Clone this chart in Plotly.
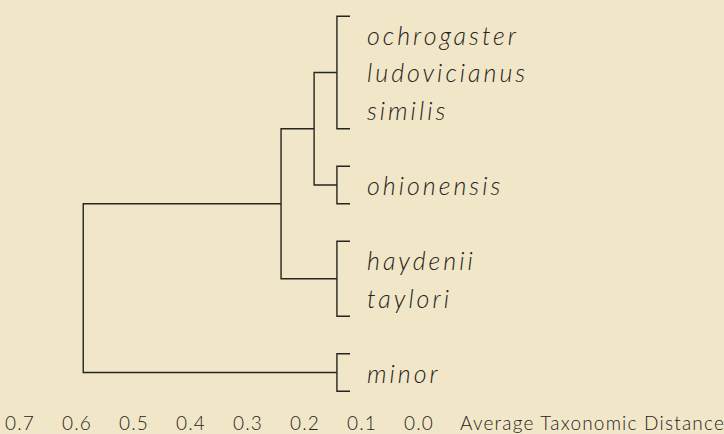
import plotly.graph_objects as go

species = ["ochrogaster", "ludovicianus", "similis", "ohionensis", "haydenii", "taylori", "minor"]
leaf_rows = [0, 1, 2, 4, 6, 7, 9]
clusters = [[0, 1, 2], [3], [4, 5], [6]]          # leaf groups joined at the leaf level
leaf_level = 0.144
merge_heights = [0.184, 0.242, 0.589]             # successive joins of clusters
tick_values = [0.7, 0.6, 0.5, 0.4, 0.3, 0.2, 0.1, 0.0]
tick_labels = ["0.7", "0.6", "0.5", "0.4", "0.3", "0.2", "0.1", "0.0"]
axis_title = "Average Taxonomic Distance"

# ---- styling constants ----
BG = "#f1e7c8"
INK = "#262420"
BRACKET_TICK = 0.023

xs, ys = [], []

def seg(pts):
    for p in pts:
        xs.append(p[0]); ys.append(p[1])
    xs.append(None); ys.append(None)

nodes = []
for c in clusters:
    top = min(leaf_rows[i] for i in c) - 0.5
    bot = max(leaf_rows[i] for i in c) + 0.5
    seg([(leaf_level - BRACKET_TICK, top), (leaf_level, top),
         (leaf_level, bot), (leaf_level - BRACKET_TICK, bot)])
    nodes.append((leaf_level, (top + bot) / 2))

cur = nodes[0]
for k, h in enumerate(merge_heights):
    nxt = nodes[k + 1]
    seg([(cur[0], cur[1]), (h, cur[1]), (h, nxt[1]), (nxt[0], nxt[1])])
    cur = (h, (cur[1] + nxt[1]) / 2)

fig = go.Figure()
fig.add_trace(go.Scatter(x=xs, y=ys, mode="lines",
                         line=dict(color=INK, width=1.4),
                         hoverinfo="skip", showlegend=False))

def spaced(t, px):
    return '<span style="letter-spacing:%gpx">%s</span>' % (px, t)

for name, r in zip(species, leaf_rows):
    fig.add_annotation(x=0.095, y=r, text=spaced(name, 3), showarrow=False,
                       xanchor="left", yanchor="middle",
                       font=dict(family="Lato", size=25, color=INK,
                                 style="italic", weight=300))

fig.add_annotation(x=-0.068, xref="x", y=-0.03, yref="paper",
                   text=spaced(axis_title, 1.2), showarrow=False,
                   xanchor="left", yanchor="middle",
                   font=dict(family="Lato", size=19, color=INK, weight=300))

fig.update_layout(
    width=724, height=434,
    margin=dict(l=0, r=0, t=0, b=24),
    paper_bgcolor=BG, plot_bgcolor=BG,
    xaxis=dict(range=[0.735, -0.535], showgrid=False, zeroline=False,
               showline=False, ticks="",
               tickvals=tick_values,
               ticktext=[spaced(t, 1.2) for t in tick_labels],
               tickfont=dict(family="Lato", size=19, color=INK, weight=300),
               automargin=False, fixedrange=True),
    yaxis=dict(range=[10.0, -0.933], visible=False, automargin=False, fixedrange=True),
)

fig.write_html("out.html",
               config={"displayModeBar": False, "staticPlot": True},
               post_script="document.body.style.margin='0';document.body.style.background='%s';" % BG)
